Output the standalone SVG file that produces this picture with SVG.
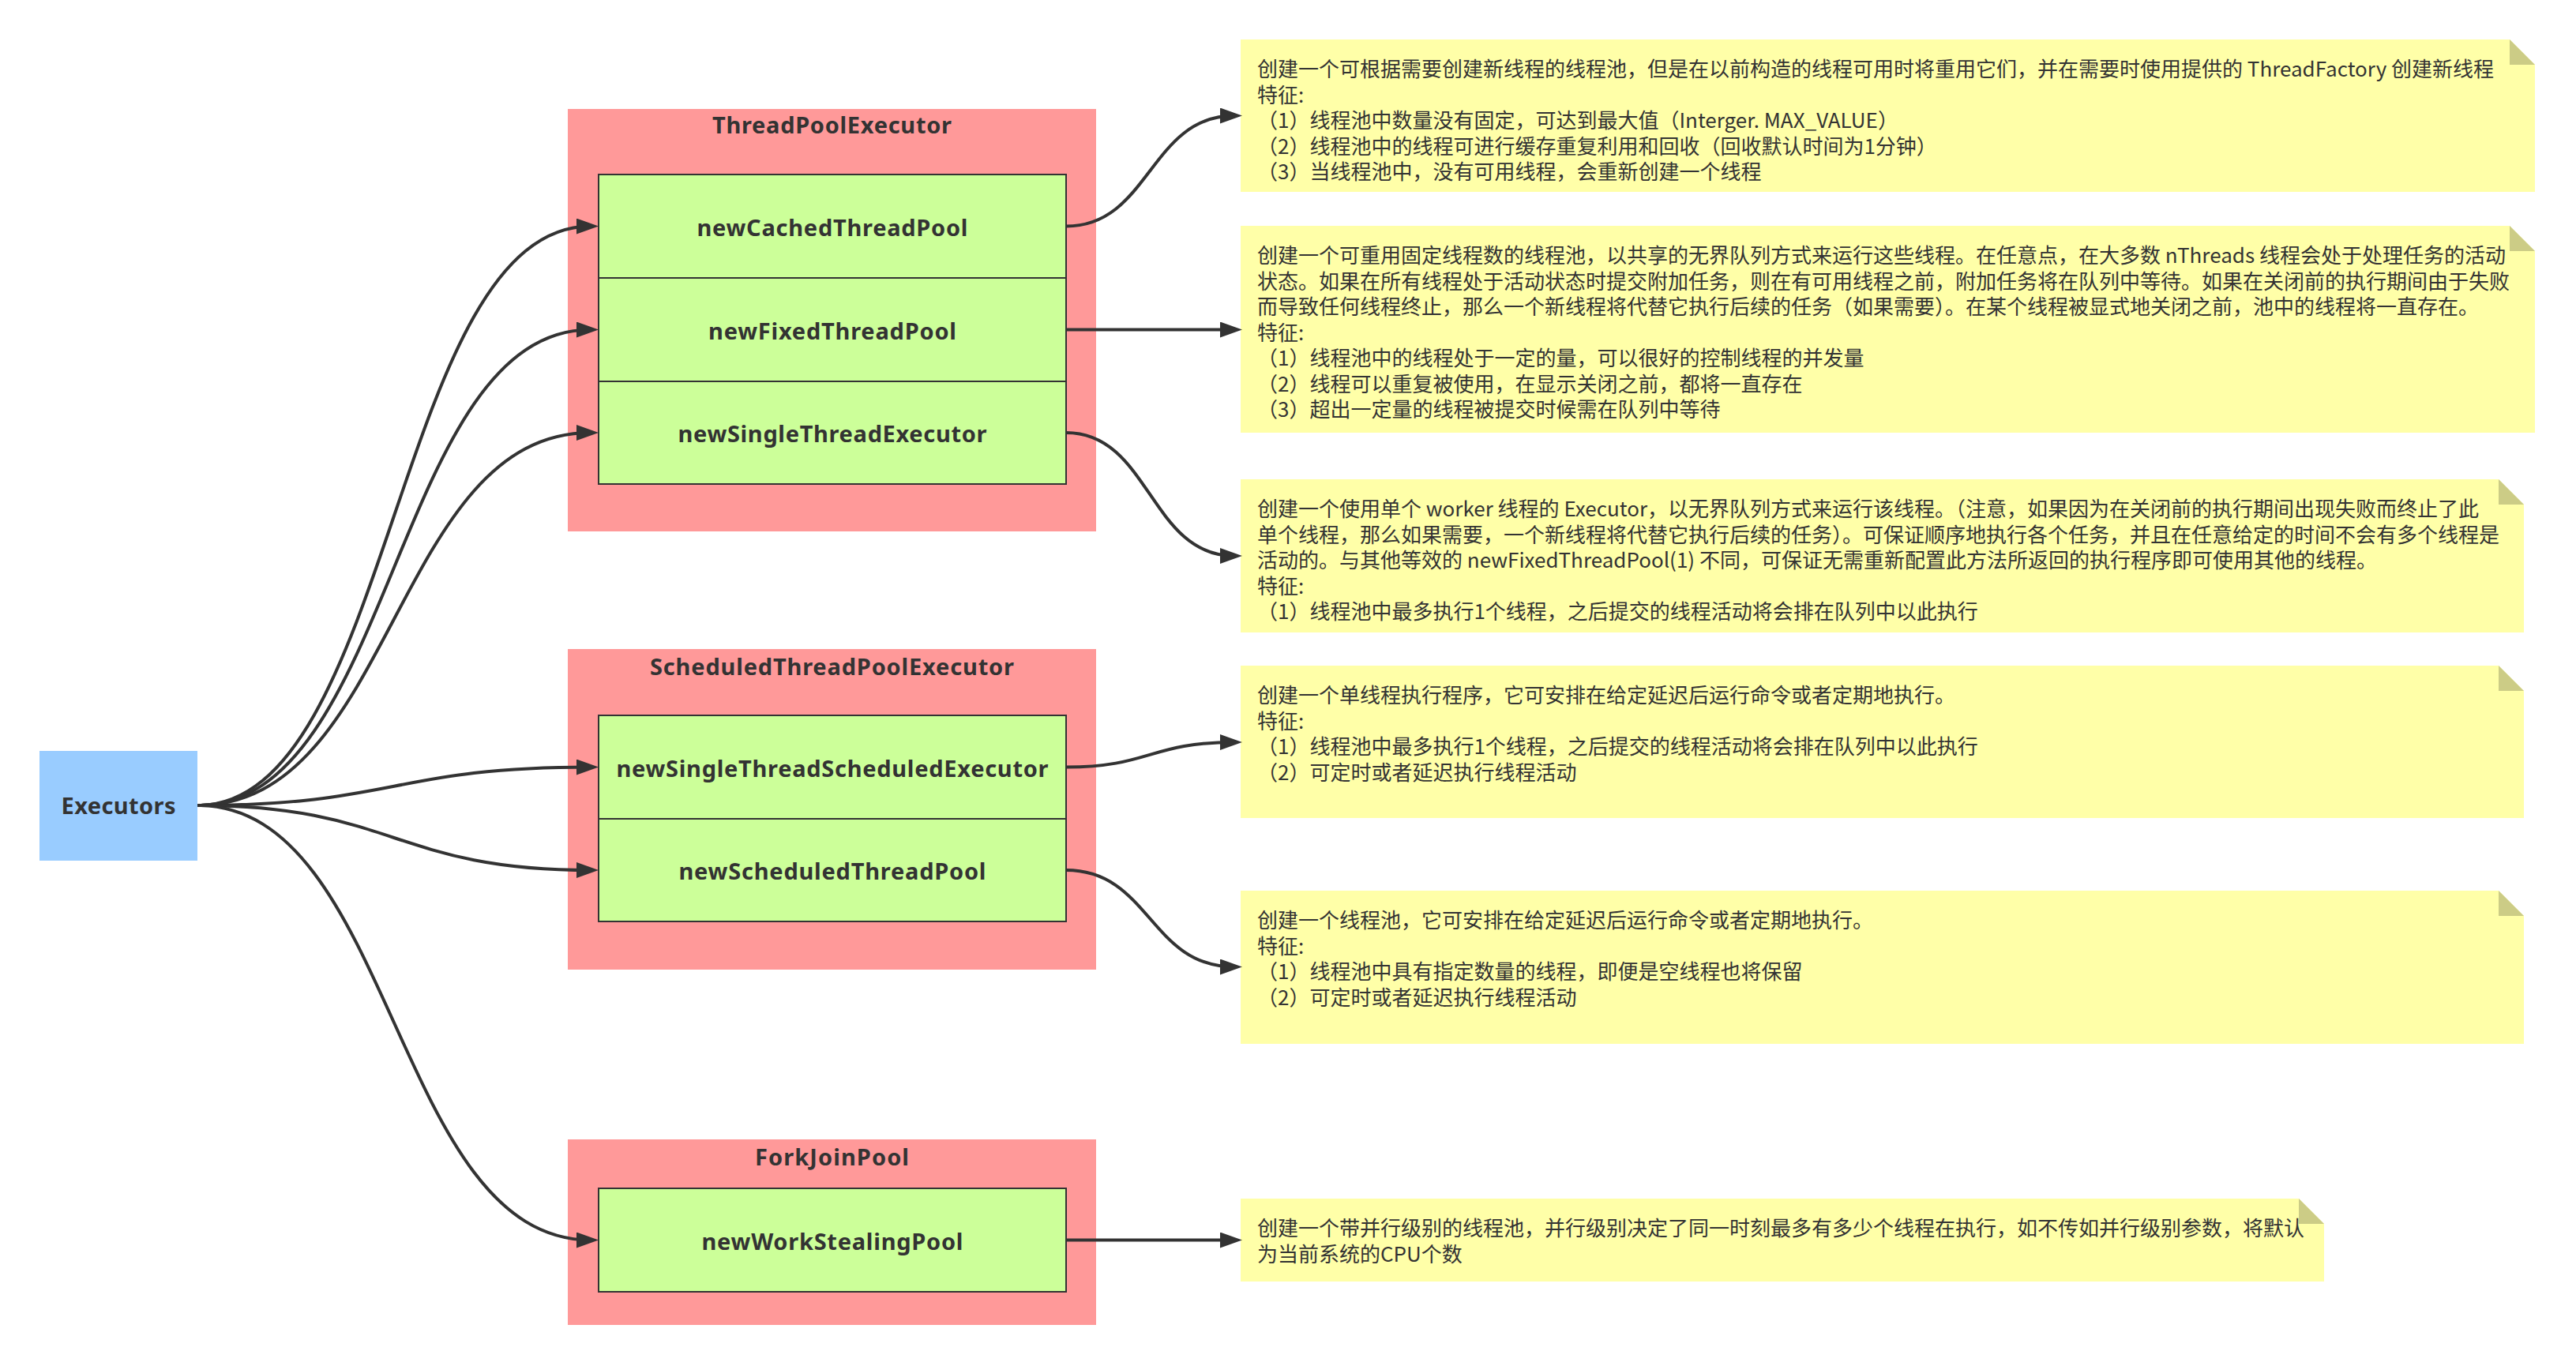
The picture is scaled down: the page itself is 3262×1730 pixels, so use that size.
<svg xmlns="http://www.w3.org/2000/svg" width="3262" height="1730" viewBox="0 0 3262 1730">
<style>
.bg{fill:#ffffff}
.container{fill:#ff9999}
.box{fill:#ccff99;stroke:#333333;stroke-width:2}
.root{fill:#99ccff}
.lbl{font-family:"Noto Sans","Open Sans","Noto Sans CJK SC",sans-serif;font-weight:700;font-size:29px;fill:#333333;text-anchor:middle}
.note{fill:#ffffa8}
.fold{fill:#cccc86}
.nt{font-family:"Noto Sans CJK SC","Noto Sans",sans-serif;font-size:26px;fill:#333333}
.conn{fill:none;stroke:#333333;stroke-width:4}
</style>
<defs>
<marker id="arrow" markerUnits="userSpaceOnUse" markerWidth="28" markerHeight="20" viewBox="0 0 28 20" refX="18" refY="10" orient="auto">
<path d="M0,0 L28,10 L0,20 Z" fill="#333333"/>
</marker>
</defs>
<rect class="bg" x="0" y="0" width="3262" height="1730"/>

<g id="executors">
<rect class="root" x="50" y="951" width="200" height="139"/>
<text class="lbl" x="150" y="1031" textLength="145" lengthAdjust="spacing">Executors</text>
</g>

<g id="threadPoolExecutor">
<rect class="container" x="719" y="138" width="669" height="535"/>
<text class="lbl" x="1053.5" y="169" textLength="303" lengthAdjust="spacing">ThreadPoolExecutor</text>
</g>
<g id="newCachedThreadPool">
<rect class="box" x="758" y="221" width="592" height="131"/>
<text class="lbl" x="1054" y="298.5" textLength="343" lengthAdjust="spacing">newCachedThreadPool</text>
</g>
<g id="newFixedThreadPool">
<rect class="box" x="758" y="352" width="592" height="131"/>
<text class="lbl" x="1054" y="429.5" textLength="314" lengthAdjust="spacing">newFixedThreadPool</text>
</g>
<g id="newSingleThreadExecutor">
<rect class="box" x="758" y="483" width="592" height="130"/>
<text class="lbl" x="1054" y="560" textLength="391" lengthAdjust="spacing">newSingleThreadExecutor</text>
</g>

<g id="scheduledThreadPoolExecutor">
<rect class="container" x="719" y="822" width="669" height="406"/>
<text class="lbl" x="1053.5" y="855" textLength="461" lengthAdjust="spacing">ScheduledThreadPoolExecutor</text>
</g>
<g id="newSingleThreadScheduledExecutor">
<rect class="box" x="758" y="906" width="592" height="131"/>
<text class="lbl" x="1054" y="983.5" textLength="547" lengthAdjust="spacing">newSingleThreadScheduledExecutor</text>
</g>
<g id="newScheduledThreadPool">
<rect class="box" x="758" y="1037" width="592" height="130"/>
<text class="lbl" x="1054" y="1114" textLength="389" lengthAdjust="spacing">newScheduledThreadPool</text>
</g>

<g id="forkJoinPool">
<rect class="container" x="719" y="1443" width="669" height="235"/>
<text class="lbl" x="1053.5" y="1476" textLength="195" lengthAdjust="spacing">ForkJoinPool</text>
</g>
<g id="newWorkStealingPool">
<rect class="box" x="758" y="1505" width="592" height="131"/>
<text class="lbl" x="1054" y="1582.5" textLength="331" lengthAdjust="spacing">newWorkStealingPool</text>
</g>

<g id="note1">
<path class="note" d="M1571,50 L3178,50 L3210,82 L3210,243 L1571,243 Z"/>
<path class="fold" d="M3178,50 L3210,82 L3178,82 Z"/>
<text class="nt" x="1592" y="97">创建一个可根据需要创建新线程的线程池，但是在以前构造的线程可用时将重用它们，并在需要时使用提供的 ThreadFactory 创建新线程</text>
<text class="nt" x="1592" y="129.5">特征:</text>
<text class="nt" x="1592" y="162">（1）线程池中数量没有固定，可达到最大值（Interger. MAX_VALUE）</text>
<text class="nt" x="1592" y="194.5">（2）线程池中的线程可进行缓存重复利用和回收（回收默认时间为1分钟）</text>
<text class="nt" x="1592" y="227">（3）当线程池中，没有可用线程，会重新创建一个线程</text>
</g>

<g id="note2">
<path class="note" d="M1571,286 L3178,286 L3210,318 L3210,548 L1571,548 Z"/>
<path class="fold" d="M3178,286 L3210,318 L3178,318 Z"/>
<text class="nt" x="1592" y="333">创建一个可重用固定线程数的线程池，以共享的无界队列方式来运行这些线程。在任意点，在大多数 nThreads 线程会处于处理任务的活动</text>
<text class="nt" x="1592" y="365.5">状态。如果在所有线程处于活动状态时提交附加任务，则在有可用线程之前，附加任务将在队列中等待。如果在关闭前的执行期间由于失败</text>
<text class="nt" x="1592" y="398">而导致任何线程终止，那么一个新线程将代替它执行后续的任务（如果需要）。在某个线程被显式地关闭之前，池中的线程将一直存在。</text>
<text class="nt" x="1592" y="430.5">特征:</text>
<text class="nt" x="1592" y="463">（1）线程池中的线程处于一定的量，可以很好的控制线程的并发量</text>
<text class="nt" x="1592" y="495.5">（2）线程可以重复被使用，在显示关闭之前，都将一直存在</text>
<text class="nt" x="1592" y="528">（3）超出一定量的线程被提交时候需在队列中等待</text>
</g>

<g id="note3">
<path class="note" d="M1571,607 L3164,607 L3196,639 L3196,801 L1571,801 Z"/>
<path class="fold" d="M3164,607 L3196,639 L3164,639 Z"/>
<text class="nt" x="1592" y="654">创建一个使用单个 worker 线程的 Executor，以无界队列方式来运行该线程。（注意，如果因为在关闭前的执行期间出现失败而终止了此</text>
<text class="nt" x="1592" y="686.5">单个线程，那么如果需要，一个新线程将代替它执行后续的任务）。可保证顺序地执行各个任务，并且在任意给定的时间不会有多个线程是</text>
<text class="nt" x="1592" y="719">活动的。与其他等效的 newFixedThreadPool(1) 不同，可保证无需重新配置此方法所返回的执行程序即可使用其他的线程。</text>
<text class="nt" x="1592" y="751.5">特征:</text>
<text class="nt" x="1592" y="784">（1）线程池中最多执行1个线程，之后提交的线程活动将会排在队列中以此执行</text>
</g>

<g id="note4">
<path class="note" d="M1571,843 L3164,843 L3196,875 L3196,1036 L1571,1036 Z"/>
<path class="fold" d="M3164,843 L3196,875 L3164,875 Z"/>
<text class="nt" x="1592" y="890">创建一个单线程执行程序，它可安排在给定延迟后运行命令或者定期地执行。</text>
<text class="nt" x="1592" y="922.5">特征:</text>
<text class="nt" x="1592" y="955">（1）线程池中最多执行1个线程，之后提交的线程活动将会排在队列中以此执行</text>
<text class="nt" x="1592" y="987.5">（2）可定时或者延迟执行线程活动</text>
</g>

<g id="note5">
<path class="note" d="M1571,1128 L3164,1128 L3196,1160 L3196,1322 L1571,1322 Z"/>
<path class="fold" d="M3164,1128 L3196,1160 L3164,1160 Z"/>
<text class="nt" x="1592" y="1175">创建一个线程池，它可安排在给定延迟后运行命令或者定期地执行。</text>
<text class="nt" x="1592" y="1207.5">特征:</text>
<text class="nt" x="1592" y="1240">（1）线程池中具有指定数量的线程，即便是空线程也将保留</text>
<text class="nt" x="1592" y="1272.5">（2）可定时或者延迟执行线程活动</text>
</g>

<g id="note6">
<path class="note" d="M1571,1518 L2911,1518 L2943,1550 L2943,1623 L1571,1623 Z"/>
<path class="fold" d="M2911,1518 L2943,1550 L2911,1550 Z"/>
<text class="nt" x="1592" y="1565">创建一个带并行级别的线程池，并行级别决定了同一时刻最多有多少个线程在执行，如不传如并行级别参数，将默认</text>
<text class="nt" x="1592" y="1597.5">为当前系统的CPU个数</text>
</g>

<g id="connectors">
<path class="conn" marker-end="url(#arrow)" d="M250,1020 C499,1020 499,286.5 748,286.5"/>
<path class="conn" marker-end="url(#arrow)" d="M250,1020 C499,1020 499,417.5 748,417.5"/>
<path class="conn" marker-end="url(#arrow)" d="M250,1020 C499,1020 499,548 748,548"/>
<path class="conn" marker-end="url(#arrow)" d="M250,1020 C499,1020 499,971.5 748,971.5"/>
<path class="conn" marker-end="url(#arrow)" d="M250,1020 C499,1020 499,1102 748,1102"/>
<path class="conn" marker-end="url(#arrow)" d="M250,1020 C499,1020 499,1570.5 748,1570.5"/>
<path class="conn" marker-end="url(#arrow)" d="M1350,286.5 C1456,286.5 1456,146.5 1563,146.5"/>
<path class="conn" marker-end="url(#arrow)" d="M1350,417.5 L1563,417.5"/>
<path class="conn" marker-end="url(#arrow)" d="M1350,548 C1456,548 1456,704 1563,704"/>
<path class="conn" marker-end="url(#arrow)" d="M1350,971.5 C1456,971.5 1456,940 1563,940"/>
<path class="conn" marker-end="url(#arrow)" d="M1350,1102 C1456,1102 1456,1224.5 1563,1224.5"/>
<path class="conn" marker-end="url(#arrow)" d="M1350,1570.5 L1563,1570.5"/>
</g>
</svg>
